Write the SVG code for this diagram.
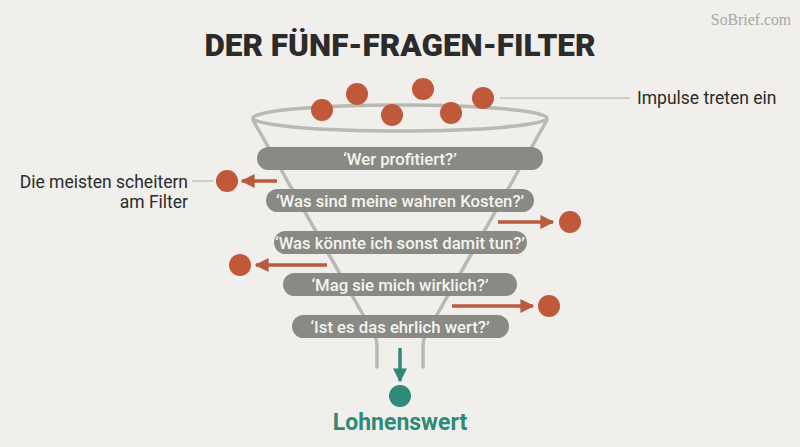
<svg xmlns="http://www.w3.org/2000/svg" width="800" height="447" viewBox="0 0 800 447">
<defs>
<style>
.bg{fill:#f0efeb}
.funnel{fill:none;stroke:#b9b9b4;stroke-width:3.5;stroke-linecap:round}
.pill{fill:#8a8a85}
.pt{font-family:Roboto,"Liberation Sans",sans-serif;font-size:16.7px;font-weight:500;fill:#f4f4ef;text-anchor:middle}
.ball{fill:#c0583a}
.arr{stroke:#b85b3e;stroke-width:3.5;fill:none}
.lbl{font-family:Roboto,"Liberation Sans",sans-serif;font-size:17.5px;fill:#2b2b2b}
.lead{stroke:#c4c4bf;stroke-width:1.5;fill:none}
</style>
<marker id="ah" viewBox="0 0 10 10" refX="9" refY="5" markerWidth="4" markerHeight="4" orient="auto" markerUnits="strokeWidth">
<path d="M0,0 L10,5 L0,10 z" fill="#b85b3e"/>
</marker>
<marker id="ahg" viewBox="0 0 10 10" refX="9" refY="5" markerWidth="4" markerHeight="4" orient="auto" markerUnits="strokeWidth">
<path d="M0,0 L10,5 L0,10 z" fill="#2e8a78"/>
</marker>
</defs>
<rect class="bg" x="0" y="0" width="800" height="447"/>
<text x="751" y="25" font-family="'Liberation Serif',serif" font-size="15.8" fill="#a9a9a6" text-anchor="middle">SoBrief.com</text>
<text x="400" y="56" font-family="Roboto,'Liberation Sans',sans-serif" font-size="31.5" font-weight="900" fill="#2b2b2b" text-anchor="middle">DER FÜNF-FRAGEN-FILTER</text>

<g id="funnel">
<ellipse class="funnel" cx="400" cy="118" rx="147" ry="13"/>
<path class="funnel" d="M253,120 L375,336 Q377,340 377,346 L377,367"/>
<path class="funnel" d="M547,120 L425,336 Q423,340 423,346 L423,367"/>
</g>

<g id="impulses">
<circle class="ball" cx="322" cy="110" r="11"/>
<circle class="ball" cx="357" cy="94" r="11"/>
<circle class="ball" cx="423" cy="89" r="11"/>
<circle class="ball" cx="392" cy="115" r="11"/>
<circle class="ball" cx="451" cy="113" r="11"/>
<circle class="ball" cx="483" cy="98" r="11"/>
</g>

<g id="q1"><rect class="pill" x="257" y="147" width="286" height="23" rx="11.5"/><text class="pt" x="400" y="164.5">‘Wer profitiert?’</text></g>
<g id="q2"><rect class="pill" x="266" y="189" width="268" height="23" rx="11.5"/><text class="pt" x="400" y="206.5">‘Was sind meine wahren Kosten?’</text></g>
<g id="q3"><rect class="pill" x="274" y="231" width="253" height="23" rx="11.5"/><text class="pt" x="400" y="248.5">‘Was könnte ich sonst damit tun?’</text></g>
<g id="q4"><rect class="pill" x="283" y="273" width="234" height="23" rx="11.5"/><text class="pt" x="400" y="290.5">‘Mag sie mich wirklich?’</text></g>
<g id="q5"><rect class="pill" x="292" y="315" width="217" height="23" rx="11.5"/><text class="pt" x="400" y="332.5">‘Ist es das ehrlich wert?’</text></g>

<g id="connectors">
<line class="arr" x1="277" y1="181" x2="242" y2="181" marker-end="url(#ah)"/>
<line class="arr" x1="498" y1="222" x2="553" y2="222" marker-end="url(#ah)"/>
<line class="arr" x1="327" y1="265" x2="256" y2="265" marker-end="url(#ah)"/>
<line class="arr" x1="452" y1="306" x2="533" y2="306" marker-end="url(#ah)"/>
<line x1="400" y1="348" x2="400" y2="381" stroke="#2e8a78" stroke-width="3.5" marker-end="url(#ahg)"/>
<line class="lead" x1="500" y1="98" x2="630" y2="98"/>
<line class="lead" x1="192" y1="181" x2="213" y2="181"/>
</g>

<g id="rejected">
<circle class="ball" cx="227" cy="181" r="11"/>
<circle class="ball" cx="570" cy="222" r="11"/>
<circle class="ball" cx="240" cy="265" r="11"/>
<circle class="ball" cx="549" cy="306" r="11"/>
</g>

<g id="label-impulse"><text class="lbl" x="637" y="104">Impulse treten ein</text></g>
<g id="label-fail">
<text class="lbl" x="188" y="188" text-anchor="end">Die meisten scheitern</text>
<text class="lbl" x="188" y="208" text-anchor="end">am Filter</text>
</g>
<g id="result">
<circle cx="400" cy="396" r="11" fill="#2e8a78"/>
<text x="400" y="430" font-family="Roboto,'Liberation Sans',sans-serif" font-size="23" font-weight="700" fill="#2e8a78" text-anchor="middle">Lohnenswert</text>
</g>
</svg>
